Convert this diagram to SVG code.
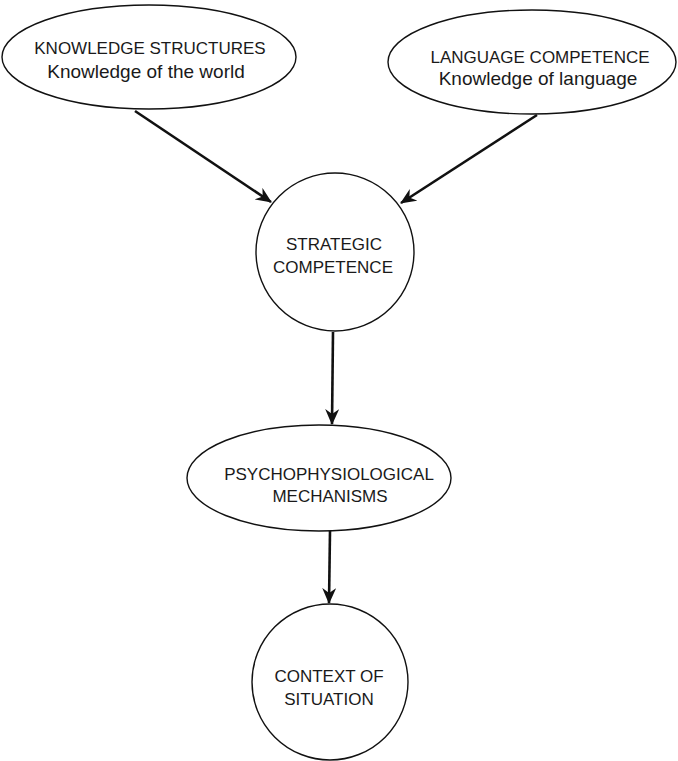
<svg xmlns="http://www.w3.org/2000/svg" width="678" height="761" viewBox="0 0 678 761">
<style>
.node{fill:none;stroke:#111;stroke-width:1.4}
.t{font-family:"Liberation Sans",Arial,sans-serif;font-size:17px;fill:#1a1a1a;text-anchor:middle}
.lc{font-size:19px}
.edge{stroke:#111;stroke-width:2.6;fill:none}
</style>
<defs>
<marker id="ah" viewBox="0 0 16 14" refX="15" refY="7" markerWidth="16" markerHeight="14" markerUnits="userSpaceOnUse" orient="auto">
<path d="M0,0 L16,7 L0,14 L5,7 Z" fill="#111"/>
</marker>
</defs>
<rect width="678" height="761" fill="#fff"/>
<g id="connectors">
<line class="edge" x1="135" y1="111" x2="271" y2="202" marker-end="url(#ah)"/>
<line class="edge" x1="537" y1="115" x2="401" y2="203" marker-end="url(#ah)"/>
<line class="edge" x1="333" y1="332" x2="332" y2="424" marker-end="url(#ah)"/>
<line class="edge" x1="330" y1="531" x2="329" y2="603" marker-end="url(#ah)"/>
</g>
<g id="knowledge">
<ellipse class="node" cx="149" cy="57" rx="147" ry="52"/>
<text class="t" x="150" y="54">KNOWLEDGE STRUCTURES</text>
<text class="t lc" x="146" y="78">Knowledge of the world</text>
</g>
<g id="language">
<ellipse class="node" cx="532" cy="62" rx="144" ry="52"/>
<text class="t" x="540" y="63">LANGUAGE COMPETENCE</text>
<text class="t lc" x="538" y="85">Knowledge of language</text>
</g>
<g id="strategic">
<circle class="node" cx="335" cy="252" r="79"/>
<text class="t" x="334" y="250">STRATEGIC</text>
<text class="t" x="333" y="273">COMPETENCE</text>
</g>
<g id="psycho">
<ellipse class="node" cx="319" cy="478" rx="132" ry="53"/>
<text class="t" x="329" y="480">PSYCHOPHYSIOLOGICAL</text>
<text class="t" x="330" y="502">MECHANISMS</text>
</g>
<g id="context">
<circle class="node" cx="330" cy="682" r="78"/>
<text class="t" x="329" y="682">CONTEXT OF</text>
<text class="t" x="329" y="705">SITUATION</text>
</g>
</svg>
